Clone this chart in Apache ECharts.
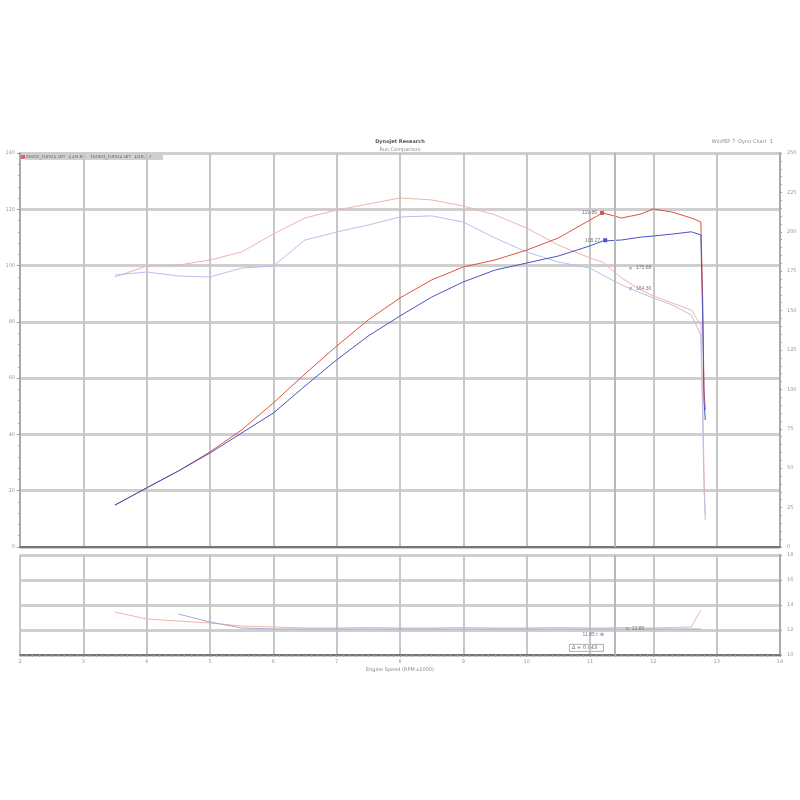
<!DOCTYPE html>
<html>
<head>
<meta charset="utf-8">
<script src="https://cdn.jsdelivr.net/npm/echarts@6/dist/echarts.min.js"></script>
<style>html,body{margin:0;padding:0;background:#fff}#c{width:800px;height:800px}</style>
</head>
<body>
<div id="c"></div>
<script>
// Engine speed (RPM x1000) sample points
const rpm = [3.5, 4.0, 4.5, 5.0, 5.5, 6.0, 6.5, 7.0, 7.5, 8.0, 8.5, 9.0, 9.5, 10.0, 10.5, 11.0, 11.2, 11.5, 11.8, 12.0, 12.3, 12.6, 12.75, 12.78, 12.8, 12.82];
// Power (hp)
const powerRun1 = [14.9, 21.0, 27.0, 33.8, 41.6, 51.2, 61.5, 71.4, 80.7, 88.5, 94.9, 99.5, 102.0, 105.5, 109.8, 116.2, 118.7, 116.9, 118.3, 120.1, 119.0, 116.9, 115.5, 87.8, 55.8, 48.7];
const powerRun2 = [14.9, 21.0, 27.0, 33.4, 40.5, 47.6, 57.2, 66.5, 75.0, 82.1, 88.8, 94.2, 98.4, 100.9, 103.4, 107.0, 108.7, 109.1, 110.1, 110.5, 111.2, 112.0, 110.9, 80.3, 52.0, 45.1];
// Torque
const torqueRun1 = [171.3, 178.3, 178.9, 182.1, 187.2, 198.6, 208.8, 213.8, 217.6, 221.5, 220.2, 216.4, 210.7, 202.4, 191.6, 183.4, 180.8, 170.7, 163.1, 159.3, 154.8, 150.4, 140.9, 93.3, 48.9, 17.1];
const torqueRun2 = [172.6, 174.5, 172.0, 171.3, 177.0, 178.3, 194.8, 199.9, 204.3, 209.4, 210.1, 206.2, 196.1, 187.2, 180.8, 177.0, 172.6, 166.2, 161.2, 158.0, 153.6, 147.2, 134.5, 80.6, 36.2, 20.3];
// Air/fuel ratio (lower panel)
const afrRun1 = [13.44, 12.88, 12.72, 12.56, 12.32, 12.24, 12.16, 12.16, 12.2, 12.16, 12.16, 12.2, 12.16, 12.16, 12.2, 12.16, 12.16, 12.2, 12.16, 12.16, 12.2, 12.24, 13.6, null, null, null];
const afrRun2 = [null, null, 13.28, 12.64, 12.16, 12.08, 12.08, 12.08, 12.08, 12.08, 12.08, 12.08, 12.08, 12.08, 12.08, 12.08, 12.08, 12.08, 12.08, 12.08, 12.08, 12.08, 12.08, null, null, null];
// Cursor and readouts
const cursorRpm = 11.39;
const readPower = [119.86, 108.27];
const readTorque = [175.88, 164.30];
const readAfr = ['12.80', '11.85 t'];
const deltaText = 'Δ = 0.943';
// Tick setup
const rpmMin = 2, rpmMax = 14, rpmStep = 1;
const hpMin = 0, hpMax = 140, hpStep = 20;
const tqMin = 0, tqMax = 250, tqStep = 25;
const afrMin = 10, afrMax = 18, afrStep = 2;

const zip = (xs, ys) => xs.map((x, i) => [x, ys[i]]);
const C1 = '#e0523f', C2 = '#4b54c4', T1 = '#f2b3ad', T2 = '#bdbdec';
const lab = {fontSize: 5, color: '#9a9a9a', fontFamily: 'DejaVu Sans'};
const cursorLine = {silent: true, symbol: 'none', label: {show: false}, lineStyle: {color: '#b8b8b8', width: 2, type: 'solid'}, data: [{xAxis: cursorRpm}]};

const chart = echarts.init(document.getElementById('c'), null, {renderer: 'canvas'});
chart.setOption({
  backgroundColor: '#fff',
  animation: false,
  title: [
    {text: 'Dynojet Research', left: 'center', top: 134, textStyle: {fontSize: 5, color: '#555', fontWeight: 'bold', fontFamily: 'DejaVu Sans'}},
    {text: 'Run Comparison', left: 'center', top: 142, textStyle: {fontSize: 5, color: '#888', fontWeight: 'normal', fontFamily: 'DejaVu Sans'}},
    {text: 'WinPEP 7  Dyno Chart  1', right: 22, top: 134, textStyle: {fontSize: 5, color: '#888', fontWeight: 'normal', fontFamily: 'DejaVu Sans'}}
  ],
  grid: [
    {left: 20, right: 20, top: 153, height: 394, show: true, borderColor: '#999', borderWidth: 1, containLabel: false, outerBoundsMode: 'none'},
    {left: 20, right: 20, top: 555, height: 100, show: true, borderColor: '#999', borderWidth: 1, containLabel: false, outerBoundsMode: 'none'}
  ],
  xAxis: [
    {gridIndex: 0, type: 'value', min: rpmMin, max: rpmMax, interval: rpmStep,
     axisLabel: {show: false}, axisTick: {show: false},
     axisLine: {lineStyle: {color: '#777', width: 2}},
     splitLine: {lineStyle: {color: '#c6c6c6', width: 2}}},
    {gridIndex: 1, type: 'value', min: rpmMin, max: rpmMax, interval: rpmStep,
     axisLabel: Object.assign({margin: 4}, lab),
     axisTick: {show: true, length: 2, lineStyle: {color: '#999'}},
     minorTick: {show: true, splitNumber: 10, length: 2, lineStyle: {color: '#aaa'}},
     axisLine: {lineStyle: {color: '#777', width: 2}},
     splitLine: {lineStyle: {color: '#c6c6c6', width: 2}},
     name: 'Engine Speed (RPM x1000)', nameLocation: 'middle', nameGap: 12,
     nameTextStyle: {fontSize: 5, color: '#888', fontFamily: 'DejaVu Sans'}}
  ],
  yAxis: [
    {gridIndex: 0, type: 'value', min: hpMin, max: hpMax, interval: hpStep, position: 'left',
     axisLabel: Object.assign({margin: 5}, lab),
     axisLine: {show: true, lineStyle: {color: '#aaa', width: 2}},
     axisTick: {show: true, length: 3, lineStyle: {color: '#999'}},
     minorTick: {show: true, splitNumber: 5, length: 2, lineStyle: {color: '#aaa'}},
     splitLine: {lineStyle: {color: '#cfcfcf', width: 3}},
     name: 'Power (hp)', nameLocation: 'middle', nameGap: 11, nameRotate: 90,
     nameTextStyle: {fontSize: 5, color: '#888', fontFamily: 'DejaVu Sans'}},
    {gridIndex: 0, type: 'value', min: tqMin, max: tqMax, interval: tqStep, position: 'right',
     axisLabel: Object.assign({margin: 7}, lab),
     axisLine: {show: true, lineStyle: {color: '#aaa', width: 2}},
     axisTick: {show: true, length: 2, lineStyle: {color: '#999'}},
     minorTick: {show: true, splitNumber: 5, length: 2, lineStyle: {color: '#aaa'}},
     splitLine: {show: false},
     name: 'Torque (lb-ft)', nameLocation: 'middle', nameGap: 14, nameRotate: 90,
     nameTextStyle: {fontSize: 5, color: '#888', fontFamily: 'DejaVu Sans'}},
    {gridIndex: 1, type: 'value', min: afrMin, max: afrMax, interval: afrStep, position: 'right',
     axisLabel: Object.assign({margin: 7}, lab),
     axisLine: {show: true, lineStyle: {color: '#aaa', width: 2}},
     axisTick: {show: true, length: 2, lineStyle: {color: '#999'}},
     splitLine: {lineStyle: {color: '#cfcfcf', width: 3}},
     name: 'Air/Fuel Ratio', nameLocation: 'middle', nameGap: 14, nameRotate: 90,
     nameTextStyle: {fontSize: 5, color: '#888', fontFamily: 'DejaVu Sans'}}
  ],
  series: [
    {name: 'Torque run 1', type: 'line', xAxisIndex: 0, yAxisIndex: 1, data: zip(rpm, torqueRun1), showSymbol: false, lineStyle: {color: T1, width: 1}, z: 3,
     markLine: cursorLine,
     markPoint: {symbol: 'rect', symbolSize: 3, itemStyle: {color: T1},
       label: {show: true, position: 'right', distance: 4, fontSize: 5, color: '#777', formatter: readTorque[0].toFixed(2)},
       data: [{coord: [cursorRpm + 0.25, 177]}]}},
    {name: 'Torque run 2', type: 'line', xAxisIndex: 0, yAxisIndex: 1, data: zip(rpm, torqueRun2), showSymbol: false, lineStyle: {color: T2, width: 1}, z: 3,
     markPoint: {symbol: 'rect', symbolSize: 3, itemStyle: {color: T2},
       label: {show: true, position: 'right', distance: 4, fontSize: 5, color: '#777', formatter: readTorque[1].toFixed(2)},
       data: [{coord: [cursorRpm + 0.25, 164]}]}},
    {name: 'Power run 1', type: 'line', xAxisIndex: 0, yAxisIndex: 0, data: zip(rpm, powerRun1), showSymbol: false, lineStyle: {color: C1, width: 1}, z: 4,
     markPoint: {symbol: 'rect', symbolSize: 4, itemStyle: {color: C1},
       label: {show: true, position: 'left', distance: 3, fontSize: 5, color: '#777', formatter: readPower[0].toFixed(2)},
       data: [{coord: [cursorRpm - 0.2, 118.7]}]}},
    {name: 'Power run 2', type: 'line', xAxisIndex: 0, yAxisIndex: 0, data: zip(rpm, powerRun2), showSymbol: false, lineStyle: {color: C2, width: 1}, z: 4,
     markPoint: {symbol: 'rect', symbolSize: 4, itemStyle: {color: C2},
       label: {show: true, position: 'left', distance: 3, fontSize: 5, color: '#777', formatter: readPower[1].toFixed(2)},
       data: [{coord: [cursorRpm - 0.15, 109]}]}},
    {name: 'AFR run 1', type: 'line', xAxisIndex: 1, yAxisIndex: 2, data: zip(rpm, afrRun1), showSymbol: false, connectNulls: false, lineStyle: {color: T1, width: 1}, z: 3,
     markLine: cursorLine,
     markPoint: {symbol: 'rect', symbolSize: 3, itemStyle: {color: '#aaa'},
       label: {show: true, position: 'right', distance: 3, fontSize: 5, color: '#777', formatter: readAfr[0]},
       data: [{coord: [cursorRpm + 0.2, 12.1]}]}},
    {name: 'AFR run 2', type: 'line', xAxisIndex: 1, yAxisIndex: 2, data: zip(rpm, afrRun2), showSymbol: false, lineStyle: {color: '#a8a8d8', width: 1}, z: 3,
     markPoint: {symbol: 'rect', symbolSize: 3, itemStyle: {color: '#aaa'},
       label: {show: true, position: 'left', distance: 3, fontSize: 5, color: '#777', formatter: readAfr[1]},
       data: [{coord: [cursorRpm - 0.2, 11.65]}]}}
  ],
  graphic: [
    {type: 'rect', left: 21, top: 154, shape: {width: 4, height: 5}, style: {fill: '#e06070'}},
    {type: 'rect', left: 25, top: 154, shape: {width: 138, height: 6}, style: {fill: '#d0d0d0'}},
    {type: 'text', left: 26, top: 154.5, style: {text: 'stock_run01.drf  119.86   tuned_run02.drf  108.27', fontSize: 5, fill: '#666', fontFamily: 'DejaVu Sans'}},
    {type: 'rect', left: 569, top: 644, shape: {width: 34, height: 7}, style: {fill: '#fff', stroke: '#999', lineWidth: 0.8}},
    {type: 'text', left: 572, top: 645, style: {text: deltaText, fontSize: 5, fill: '#666', fontFamily: 'DejaVu Sans'}}
  ]
});
</script>
</body>
</html>
